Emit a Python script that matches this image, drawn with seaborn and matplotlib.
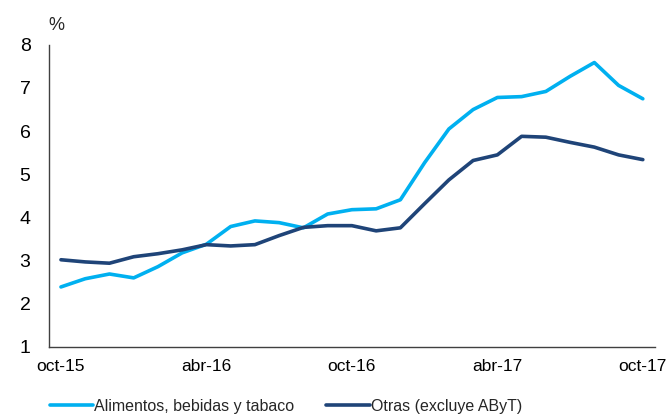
import matplotlib
matplotlib.use("Agg")
import matplotlib.pyplot as plt
from matplotlib.lines import Line2D
import seaborn as sns
import pandas as pd

months = ["oct-15", "nov-15", "dic-15", "ene-16", "feb-16", "mar-16", "abr-16", "may-16",
          "jun-16", "jul-16", "ago-16", "sep-16", "oct-16", "nov-16", "dic-16", "ene-17",
          "feb-17", "mar-17", "abr-17", "may-17", "jun-17", "jul-17", "ago-17", "sep-17", "oct-17"]
alimentos = [2.39, 2.58, 2.69, 2.60, 2.86, 3.18, 3.38, 3.79, 3.92, 3.88, 3.76, 4.08, 4.18,
             4.20, 4.41, 5.27, 6.05, 6.50, 6.78, 6.80, 6.92, 7.27, 7.59, 7.06, 6.75]
otras = [3.02, 2.97, 2.94, 3.09, 3.16, 3.25, 3.37, 3.34, 3.37, 3.58, 3.77, 3.81, 3.81,
         3.69, 3.76, 4.32, 4.87, 5.32, 5.45, 5.88, 5.86, 5.74, 5.63, 5.45, 5.34]
series_names = ["Alimentos, bebidas y tabaco", "Otras (excluye AByT)"]
tick_labels = ["oct-15", "abr-16", "oct-16", "abr-17", "oct-17"]
colors = ["#00B0F0", "#1F4478"]

sns.set_theme(style="white")
plt.rcParams["font.family"] = ["Liberation Sans", "DejaVu Sans"]

df = pd.DataFrame({
    "idx": list(range(len(months))) * 2,
    "valor": alimentos + otras,
    "serie": [series_names[0]] * len(months) + [series_names[1]] * len(months),
})

fig = plt.figure(figsize=(6.69, 4.19), dpi=100)
ax = fig.add_axes([0.073, 0.172, 0.906, 0.721])
palette = dict(zip(series_names, colors))
sns.lineplot(data=df, x="idx", y="valor", hue="serie", palette=palette, linewidth=2.6,
             ax=ax, legend=False)

ax.set_xlim(-0.5, len(months) - 0.5)
ax.set_ylim(1, 8)
ax.set_yticks(range(1, 9))
ax.set_yticklabels([str(v) for v in range(1, 9)])
ax.set_xticks([months.index(t) for t in tick_labels])
ax.set_xticklabels(tick_labels)
ax.tick_params(axis="both", length=0, colors="black")
ax.tick_params(axis="x", pad=9, labelsize=12.5)
ax.tick_params(axis="y", pad=21, labelsize=14)
for lab in ax.get_yticklabels():
    lab.set_horizontalalignment("left")
ax.set_xlabel("")
ax.set_ylabel("")
for s in ["top", "right"]:
    ax.spines[s].set_visible(False)
for s in ["left", "bottom"]:
    ax.spines[s].set_color("#404040")
    ax.spines[s].set_linewidth(1.0)
ax.grid(False)

fig.text(0.072, 0.94, "%", fontsize=13, ha="left", va="center")

handles = [Line2D([], [], color=c, linewidth=2.6) for c in colors]
fig.legend(handles, series_names, loc="center", bbox_to_anchor=(286 / 669, 1 - 406 / 419),
           ncol=2, frameon=False, fontsize=11.5,
           handlelength=2.7, handletextpad=0.1, columnspacing=2.0, borderpad=0,
           borderaxespad=0)

fig.savefig("out.png", dpi=100)
